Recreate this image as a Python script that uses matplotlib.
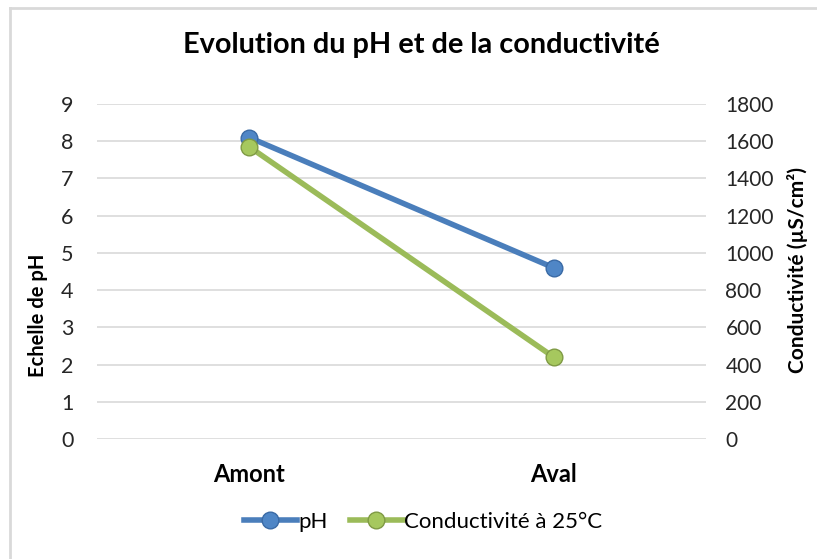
import matplotlib
matplotlib.use("Agg")
import matplotlib.pyplot as plt
from matplotlib.lines import Line2D

categories = ["Amont", "Aval"]
ph_values = [8.1, 4.6]
cond_values = [1570, 440]
ph_ticks = list(range(0, 10))
cond_ticks = list(range(0, 2000, 200))

plt.rcParams['font.family'] = ['Lato', 'DejaVu Sans']

W, H = 817, 559
fig = plt.figure(figsize=(W/100, H/100), dpi=100)
ax = fig.add_axes([97/W, 1-439/H, (706-97)/W, (439-104)/H])
ax2 = ax.twinx()

blue = "#4a7ebb"
green = "#9bbb59"
x = [0, 1]

ax.set_xlim(-0.5, 1.5)
ax.set_ylim(0, 9)
ax.set_yticks(ph_ticks)
ax2.set_ylim(0, 1800)
ax2.set_yticks(cond_ticks)
ax.grid(axis='y', color='#d9d9d9', linewidth=1.2)
ax.set_axisbelow(True)
for a in (ax, ax2):
    for s in a.spines.values():
        s.set_visible(False)
ax.tick_params(axis='y', length=0, pad=17, labelsize=15.5, labelcolor='#262626')
ax2.tick_params(axis='y', length=0, pad=14, labelsize=15, labelcolor='#262626')
ax.set_xticks(x)
ax.set_xticklabels(categories, fontsize=17, fontweight='bold')
ax.tick_params(axis='x', length=0, pad=17)

l1, = ax.plot(x, ph_values, color=blue, linewidth=4, marker='o', markersize=12,
              markerfacecolor="#4f86c6", markeredgecolor="#3a6aa5", markeredgewidth=1, zorder=3,
              label="pH")
l2, = ax2.plot(x, cond_values, color=green, linewidth=4, marker='o', markersize=12,
               markerfacecolor="#a6c85e", markeredgecolor="#7f9a44", markeredgewidth=1, zorder=3,
               label="Conductivité à 25°C")

fig.text(38/W, 1-315/H, "Echelle de pH", rotation=90, ha='center', va='center',
         fontsize=14.5, fontweight='bold')
fig.text(798/W, 1-270/H, "Conductivité (µS/cm²)", rotation=90, ha='center', va='center',
         fontsize=15, fontweight='bold')

fig.text(421/W, 1-45/H, "Evolution du pH et de la conductivité", ha='center', va='center',
         fontsize=20.8, fontweight='bold')

fig.legend(handles=[l1, l2], loc='center', bbox_to_anchor=(423/W, 1-522/H), ncol=2,
           frameon=False, fontsize=16, handlelength=2.4, columnspacing=1.0, handletextpad=0.05)

fig.add_artist(Line2D([10/W, 1], [1-8/H, 1-8/H], color='#d9d9d9', linewidth=2,
                      transform=fig.transFigure))
fig.add_artist(Line2D([10/W, 10/W], [0, 1-8/H], color='#d9d9d9', linewidth=2,
                      transform=fig.transFigure))

fig.savefig("out.png", dpi=100)
